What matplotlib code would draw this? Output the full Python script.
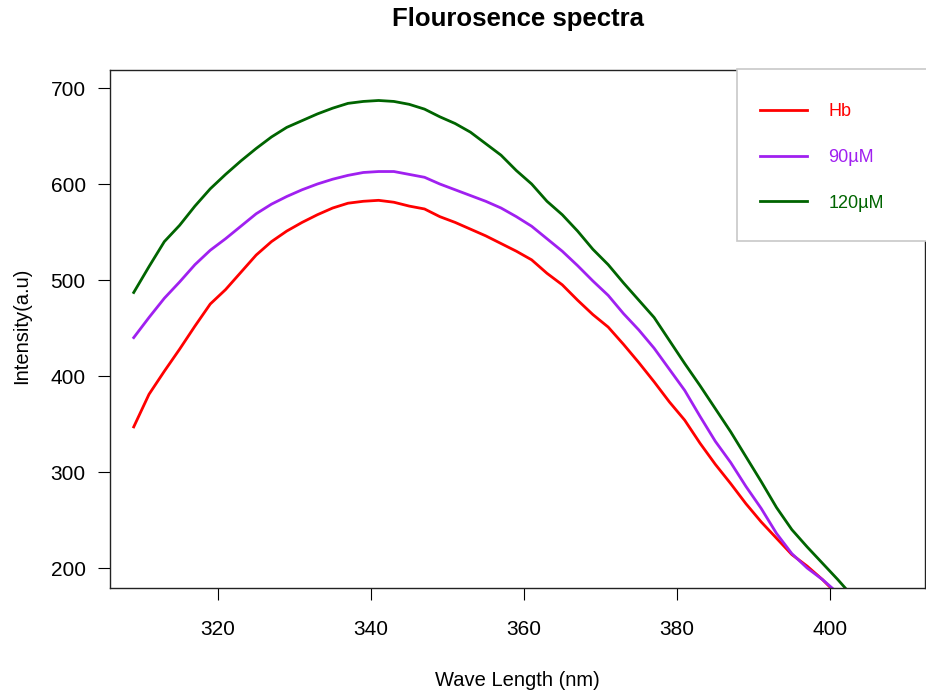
import matplotlib
matplotlib.use('Agg')
from matplotlib import pyplot as plt
from matplotlib.patches import Rectangle

plt.rcParams['font.family'] = ['Liberation Sans', 'DejaVu Sans']

# wavelength (nm)
wave = [309, 311, 313, 315, 317, 319, 321, 323, 325, 327, 329, 331, 333, 335,
        337, 339, 341, 343, 345, 347, 349, 351, 353, 355, 357, 359, 361, 363,
        365, 367, 369, 371, 373, 375, 377, 379, 381, 383, 385, 387, 389, 391,
        393, 395, 397, 399, 401, 403]

hb = [347, 381, 405, 428, 452, 475, 490, 508, 526, 540, 551, 560, 568, 575,
      580, 582, 583, 581, 577, 574, 566, 560, 553, 546, 538, 530, 521, 507,
      495, 479, 464, 451, 433, 414, 394, 373, 354, 330, 308, 288, 267, 248,
      231, 214, 202, 188, 172, 155]

uM90 = [440, 461, 481, 498, 516, 531, 543, 556, 569, 579, 587, 594, 600, 605,
        609, 612, 613, 613, 610, 607, 600, 594, 588, 582, 575, 566, 556, 543,
        530, 515, 499, 484, 465, 448, 429, 407, 385, 358, 332, 310, 285, 262,
        236, 215, 200, 188, 174, 158]

uM120 = [487, 514, 540, 557, 577, 595, 610, 624, 637, 649, 659, 666, 673, 679,
         684, 686, 687, 686, 683, 678, 670, 663, 654, 642, 630, 614, 600, 582,
         568, 551, 532, 516, 497, 479, 461, 437, 413, 390, 366, 342, 316, 290,
         263, 240, 222, 205, 188, 170]

labels = ['Hb', '90\u00b5M', '120\u00b5M']
colors = ['#FF0000', '#A020F0', '#006400']

fig = plt.figure(figsize=(9.26, 6.96), dpi=100)
ax = fig.add_axes([110 / 926, 1 - 588 / 696, 815 / 926, 518 / 696])

for ys, lab, c in zip([hb, uM90, uM120], labels, colors):
    ax.plot(wave, ys, color=c, lw=2, label=lab)

ax.set_xlim(305.9, 412.4)
ax.set_ylim(179.2, 718.75)
ax.set_xticks([320, 340, 360, 380, 400])
ax.set_yticks([200, 300, 400, 500, 600, 700])
ax.tick_params(direction='out', length=8.5, width=0.8, labelsize=15)
ax.tick_params(axis='x', pad=14.5)
ax.tick_params(axis='y', pad=9)
for s in ax.spines.values():
    s.set_linewidth(1.0)
    s.set_color('#222222')

fig.text(0.5 * (110 + 925) / 926, 1 - 19 / 696, 'Flourosence spectra',
         ha='center', va='center', fontsize=18.5, fontweight='bold')
fig.text(0.5 * (110 + 925) / 926, 1 - 680 / 696, 'Wave Length (nm)',
         ha='center', va='center', fontsize=14.5)
fig.text(22 / 926, 1 - 326 / 696, 'Intensity(a.u)', rotation=90,
         ha='center', va='center', fontsize=14.5)

# legend box runs off the right edge, as in the original
fig.patches.append(Rectangle((737 / 926, 1 - 241 / 696), 200 / 926, 172 / 696,
                             transform=fig.transFigure, fill=True,
                             facecolor='white', edgecolor='#c8c8c8', lw=1.2,
                             zorder=5))
leg = fig.legend(loc='upper left', bbox_to_anchor=(760 / 926, 1 - 103 / 696),
                 bbox_transform=fig.transFigure, frameon=False, fontsize=13,
                 handlelength=2.6, handletextpad=1.2, labelspacing=1.6,
                 borderpad=0, borderaxespad=0)
leg.set_zorder(6)
for t, c in zip(leg.get_texts(), colors):
    t.set_color(c)

fig.savefig('out.png', dpi=100)
